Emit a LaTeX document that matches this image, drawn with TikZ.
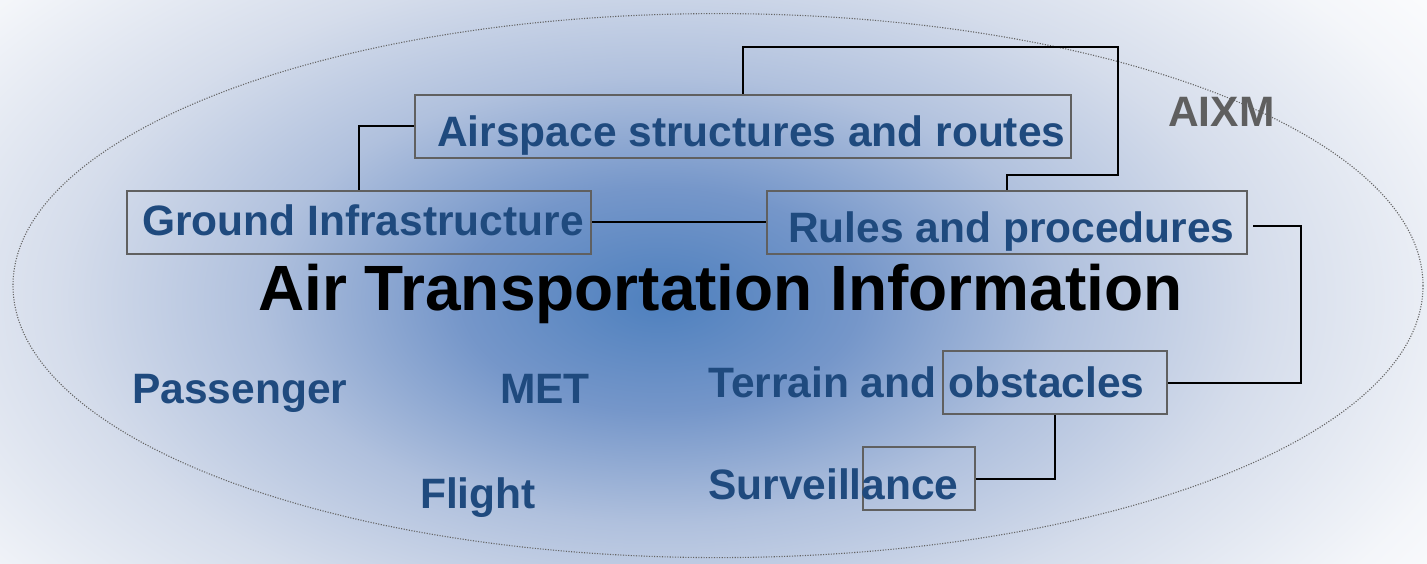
\documentclass[tikz,border=0pt]{standalone}
\usepackage{fontspec}
\setmainfont{Liberation Sans}
\definecolor{txtblue}{RGB}{31,74,126}
\definecolor{boxgray}{RGB}{96,96,96}
\definecolor{aixmgray}{RGB}{95,95,95}
\definecolor{ellgray}{RGB}{100,100,100}
\pgfdeclareradialshading{bgshade}{\pgfpoint{0bp}{0bp}}{%
rgb(0bp)=(0.306,0.502,0.745);
rgb(5bp)=(0.46,0.59,0.79);
rgb(10bp)=(0.69,0.755,0.868);
rgb(15bp)=(0.835,0.865,0.922);
rgb(21bp)=(0.955,0.963,0.978);
rgb(25bp)=(1,1,1);
rgb(50bp)=(1,1,1)}
\begin{document}
\begin{tikzpicture}[x=1pt,y=-1pt,
  boxnode/.style={draw=boxgray,line width=2pt,inner sep=0pt,minimum height=63pt},
  lbl/.style={inner sep=0pt,anchor=base west,text=txtblue,font=\fontsize{42.5}{50}\selectfont\bfseries},
  conn/.style={draw=black,line width=2pt}]
\useasboundingbox (0,0) rectangle (1427,564);
\begin{scope}
\clip (0,0) rectangle (1427,564);
\path[shading=bgshade] (660,300) ellipse [x radius=1000, y radius=560];
\end{scope}
\draw[ellgray,line width=1.1pt,dash pattern=on 1.1pt off 1.5pt] (718,285.6) ellipse [x radius=705, y radius=272];
% boxes
\node[boxnode,minimum width=656pt] (air) at (743,126.5) {};
\node[boxnode,minimum width=464pt] (ground) at (359,222.5) {};
\node[boxnode,minimum width=480pt] (rules) at (1007,222.5) {};
\node[boxnode,minimum width=224pt] (obst) at (1054.5,382.5) {};
\node[boxnode,minimum width=112pt] (surv) at (919,478.5) {};
% labels
\node[lbl] (tair) at (437,147) {Airspace structures and routes};
\node[lbl] (tground) at (142,236) {Ground Infrastructure};
\node[lbl] (trules) at (788,243) {Rules and procedures};
\node[lbl,text=black,font=\fontsize{64}{72}\selectfont\bfseries] (title) at (258,310) {Air Transportation Information};
\node[lbl,text=aixmgray] (aixm) at (1168,127) {AIXM};
\node[lbl] (pass) at (132,403) {Passenger};
\node[lbl] (met) at (500,403) {MET};
\node[lbl] (flight) at (420,508) {Flight};
\node[lbl] (terrain) at (708,397) {Terrain and obstacles};
\node[lbl] (survt) at (708,499) {Surveillance};
% connectors
\draw[conn] (ground.north) |- (air.west);
\draw[conn] (air.north) |- (1118,47) -- (1118,175) -| (rules.north);
\draw[conn] (ground.east) -- (rules.west);
\draw[conn] ([shift={(5,3.5)}]rules.east) -| (1301,300) |- (obst.east);
\draw[conn] (obst.south) |- (surv.east);
\end{tikzpicture}
\end{document}
